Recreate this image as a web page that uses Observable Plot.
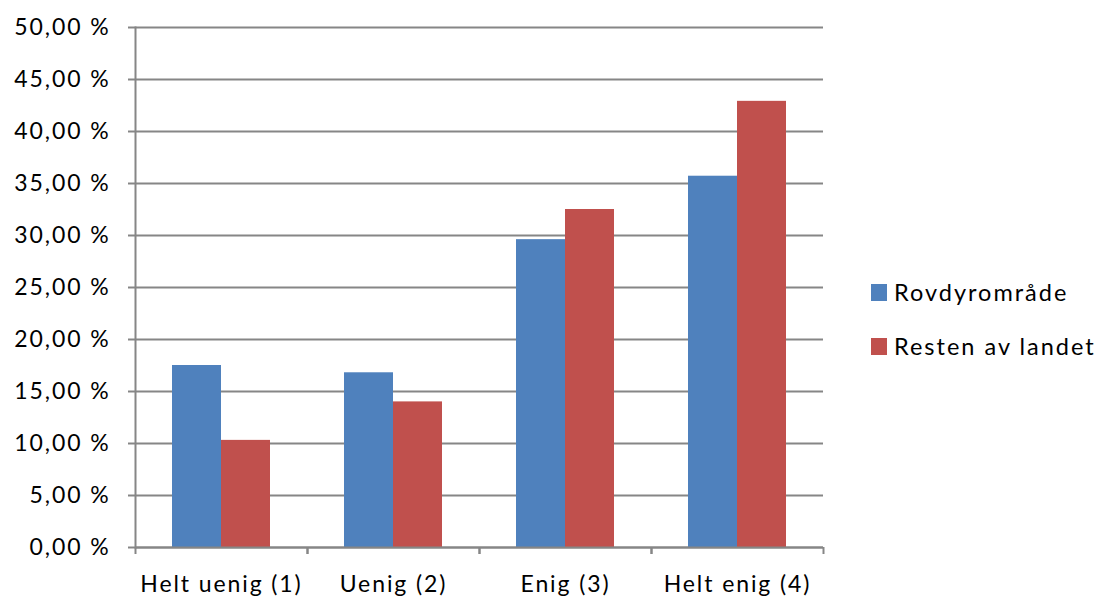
<!DOCTYPE html>
<html><head><meta charset="utf-8">
<script src="https://cdn.jsdelivr.net/npm/d3@7"></script>
<script src="https://cdn.jsdelivr.net/npm/@observablehq/plot@0.6"></script>
<style>
body{margin:0;background:#fff;font-family:Lato,"Noto Sans",sans-serif;}
#wrap{position:relative;width:1099px;height:610px;}
#legend{position:absolute;left:871px;top:278px;font-size:23.5px;letter-spacing:2px;color:#000;}
#legend .row{display:flex;align-items:center;height:28px;margin-bottom:26px;}
#legend .sw{width:16px;height:17px;margin-right:7px;}
</style>
</head><body>
<div id="wrap"><div id="legend"></div></div>
<script>
const categories = ["Helt uenig (1)", "Uenig (2)", "Enig (3)", "Helt enig (4)"];
const seriesNames = ["Rovdyrområde", "Resten av landet"];
const rovdyr = [17.5, 16.8, 29.6, 35.7];
const resten = [10.3, 14.0, 32.5, 42.9];
const yTicks = [0, 5, 10, 15, 20, 25, 30, 35, 40, 45, 50];
const colors = ["#4F81BD", "#C0504D"];

const data = categories.flatMap((c, i) => [
  {cat: c, series: seriesNames[0], value: rovdyr[i]},
  {cat: c, series: seriesNames[1], value: resten[i]}
]);

const W = 1099, H = 610, ML = 135, MR = 276, MT = 27, MB = 63;
const band = (W - ML - MR) / categories.length;
const grid = "#868686";
const fmt = d => d.toFixed(2).replace(".", ",") + " %";

const chart = Plot.plot({
  width: W, height: H,
  marginLeft: ML, marginRight: MR, marginTop: MT, marginBottom: MB,
  style: {fontFamily: "Lato, 'Noto Sans', sans-serif", fontSize: "23px", letterSpacing: "1.9px", color: "#000", background: "#fff"},
  fx: {domain: categories, padding: 0, label: null},
  x: {domain: seriesNames, paddingInner: 0, paddingOuter: 0.755, axis: null},
  y: {domain: [0, 50], label: null},
  color: {domain: seriesNames, range: colors},
  marks: [
    Plot.gridY(yTicks, {stroke: grid, strokeOpacity: 1, strokeWidth: 2}),
    Plot.barY(data, {fx: "cat", x: "series", y: "value", fill: "series"}),
    Plot.ruleY([0], {stroke: grid, strokeWidth: 2}),
    Plot.frame({anchor: "left", facetAnchor: "left", stroke: grid, strokeWidth: 2}),
    Plot.axisY(yTicks, {tickSize: 7, tickPadding: 18, stroke: grid, strokeWidth: 2, tickFormat: fmt, fill: "#000", label: null}),
    Plot.axisFx({anchor: "bottom", tickSize: 0, tickPadding: 28, fill: "#000", label: null}),
    Plot.axisFx({anchor: "bottom", tickSize: 7, stroke: grid, strokeWidth: 2, fill: "none", label: null, dx: -band / 2}),
    Plot.axisFx([categories[categories.length - 1]], {anchor: "bottom", tickSize: 7, stroke: grid, strokeWidth: 2, fill: "none", label: null, dx: band / 2})
  ]
});
document.getElementById("wrap").prepend(chart);

const legend = document.getElementById("legend");
seriesNames.forEach((s, i) => {
  const row = document.createElement("div");
  row.className = "row";
  row.innerHTML = `<div class="sw" style="background:${colors[i]}"></div><span>${s}</span>`;
  legend.appendChild(row);
});
</script>
</body></html>
